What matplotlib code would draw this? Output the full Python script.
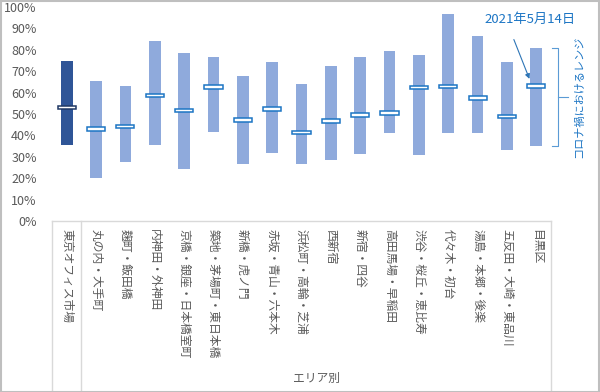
import matplotlib
matplotlib.use("Agg")
import matplotlib.pyplot as plt
from matplotlib.lines import Line2D
from matplotlib.patches import Rectangle

plt.rcParams['font.family'] = ['Noto Sans CJK JP', 'DejaVu Sans']

# エリア
areas = ["東京オフィス市場", "丸の内・大手町", "麹町・飯田橋", "内神田・外神田",
         "京橋・銀座・日本橋室町", "築地・茅場町・東日本橋", "新橋・虎ノ門",
         "赤坂・青山・六本木", "浜松町・高輪・芝浦", "西新宿", "新宿・四谷",
         "高田馬場・早稲田", "渋谷・桜丘・恵比寿", "代々木・初台",
         "湯島・本郷・後楽", "五反田・大崎・東品川", "目黒区"]

# コロナ禍におけるレンジ (上限・下限) と 2021年5月14日の値
upper = [0.75, 0.654, 0.631, 0.843, 0.784, 0.765, 0.679, 0.743, 0.639,
         0.724, 0.766, 0.796, 0.774, 0.967, 0.864, 0.743, 0.810]
lower = [0.355, 0.200, 0.274, 0.357, 0.242, 0.414, 0.268, 0.316, 0.266,
         0.285, 0.313, 0.413, 0.310, 0.413, 0.413, 0.330, 0.352]
current = [0.531, 0.431, 0.442, 0.586, 0.516, 0.625, 0.472, 0.522, 0.414,
           0.467, 0.494, 0.505, 0.623, 0.628, 0.575, 0.489, 0.632]

n = len(areas)
x = list(range(n))

fig = plt.figure(figsize=(6, 3.92), dpi=100)
ax = fig.add_axes([52 / 600, 1 - 221 / 392, 499 / 600, 214 / 392])

# レンジの棒
colors = ["#2F5597"] + ["#8FAADC"] * (n - 1)
heights = [u - l for u, l in zip(upper, lower)]
ax.bar(x, heights, bottom=lower, width=0.4, color=colors, zorder=2)

# 現在値のマーカー
mh = 0.017
edges = ["#1F3864"] + ["#1C75C4"] * (n - 1)
ax.bar(x, [mh] * n, bottom=[c - mh / 2 for c in current], width=0.62,
       color="white", edgecolor=edges, linewidth=1.1, zorder=3)

ax.set_xlim(-0.5, n - 0.5)
ax.set_ylim(0, 1)
ax.set_yticks([i / 10 for i in range(11)])
ax.set_yticklabels(["%d%%" % (i * 10) for i in range(11)])
ax.set_xticks(x)
ax.set_xticklabels(areas, rotation=270, fontsize=8.5, color="#595959")
ax.tick_params(axis="y", length=0, pad=11, labelsize=9, labelcolor="#595959")
ax.tick_params(axis="x", length=0, pad=6)
for s in ax.spines.values():
    s.set_visible(False)

# カテゴリの枠
tr = ax.get_xaxis_transform()
bottom_frac = -171 / 214
grid_c = "#D9D9D9"
ax.add_line(Line2D([-0.5, n - 0.5], [0, 0], transform=tr, color=grid_c,
                   lw=1, clip_on=False))
for xv in [-0.5, 0.5, n - 0.5]:
    ax.add_line(Line2D([xv, xv], [0, bottom_frac], transform=tr, color=grid_c,
                       lw=1, clip_on=False))
ax.text((0.5 + n - 0.5) / 2, -157 / 214, "エリア別", transform=tr,
        ha="center", va="center", fontsize=8.5, color="#595959")

# 注釈
blue = "#1C75C4"
ax.annotate("", xy=(15.8, 0.652), xytext=(15.2, 0.86),
            arrowprops=dict(arrowstyle="-|>", color="#2E75B6", lw=0.8,
                            mutation_scale=7), annotation_clip=False)
ax.text(15.79, 0.94, "2021年5月14日", ha="center", va="center",
        fontsize=9.5, color=blue, clip_on=False)

# ブラケット
bc = "#5B9BD5"
top, bot = upper[-1], lower[-1]
mid = (top + bot) / 2
ax.add_line(Line2D([16.54, 16.74, 16.74, 16.54], [top, top, bot, bot],
                   color=bc, lw=0.8, clip_on=False))
ax.add_line(Line2D([16.74, 17.08], [mid, mid], color=bc, lw=0.8,
                   clip_on=False))
ax.text(17.45, mid, "コロナ禍におけるレンジ", rotation=90, ha="center",
        va="center", fontsize=8, color=blue, clip_on=False)

# 外枠
fig.add_artist(Rectangle((0.001, 0.001), 0.997, 0.997, transform=fig.transFigure,
                         fill=False, edgecolor="#BFBFBF", lw=1.5))

fig.savefig("out.png", dpi=100)
